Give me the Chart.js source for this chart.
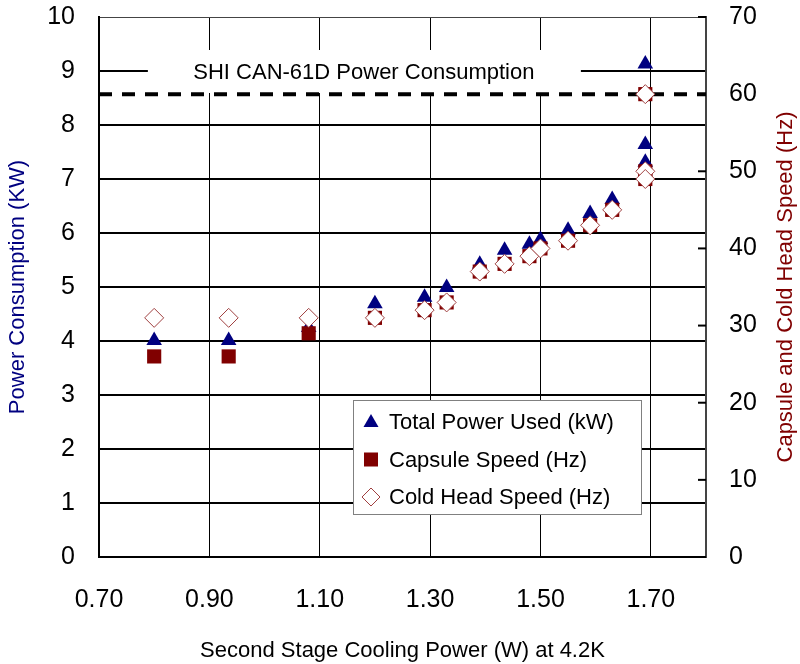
<!DOCTYPE html>
<html>
<head>
<meta charset="utf-8">
<script src="https://cdn.jsdelivr.net/npm/chart.js@4.4.0/dist/chart.umd.min.js"></script>
<style>
  html, body { margin: 0; padding: 0; background: #fff; }
  canvas { display: block; }
</style>
</head>
<body>
<canvas id="chart" width="800" height="664"></canvas>
<script>
// second stage cooling power (W) at 4.2K
const coolingPower = [0.80, 0.935, 1.08, 1.20, 1.29, 1.33, 1.39, 1.435, 1.48, 1.50, 1.55, 1.59, 1.63, 1.69, 1.69, 1.69];
// kW, left axis
const totalPower = [4.01, 4.01, 4.25, 4.69, 4.81, 4.99, 5.42, 5.68, 5.79, 5.88, 6.05, 6.36, 6.62, 9.13, 7.64, 7.31];
// Hz, right axis
const capsuleSpeed = [26, 26, 29, 31, 32, 33, 37, 38, 39, 40, 41, 43, 45, 60, 50, 49];
const coldHeadSpeed = [31, 31, 31, 31, 32, 33, 37, 38, 39, 40, 41, 43, 45, 60, 50, 49];

const xTicks = [0.70, 0.90, 1.10, 1.30, 1.50, 1.70];
const limitHz = 60;
const limitLabel = 'SHI CAN-61D Power Consumption';
const labelAt = { x: 1.18, y: 9 };

const FONT = '"Liberation Sans", Arial, sans-serif';
const NAVY = '#000080';
const MAROON = '#800000';

const pts = (ys) => coolingPower.map((x, i) => ({ x: x, y: ys[i] }));

const bgPlugin = {
  id: 'bg',
  beforeDraw: (chart) => {
    const ctx = chart.ctx;
    ctx.save();
    ctx.fillStyle = '#fff';
    ctx.fillRect(0, 0, chart.width, chart.height);
    ctx.restore();
  }
};

// reference line, its label box and the inner ticks of the right axis
const limitPlugin = {
  id: 'limit',
  beforeDatasetsDraw: (chart) => {
    const ctx = chart.ctx;
    const area = chart.chartArea;
    const xs = chart.scales.x, ys = chart.scales.y, y1 = chart.scales.y1;
    ctx.save();

    const cx = xs.getPixelForValue(labelAt.x);
    const cy = ys.getPixelForValue(labelAt.y);
    ctx.fillStyle = '#fff';
    ctx.fillRect(cx - 216, cy - 21, 433, 43);
    ctx.fillStyle = '#000';
    ctx.font = '22px ' + FONT;
    ctx.textAlign = 'center';
    ctx.textBaseline = 'middle';
    ctx.fillText(limitLabel, cx, cy + 2);

    const ly = y1.getPixelForValue(limitHz);
    ctx.strokeStyle = '#000';
    ctx.lineWidth = 4;
    ctx.setLineDash([13, 10]);
    ctx.beginPath();
    ctx.moveTo(area.left, ly);
    ctx.lineTo(area.right, ly);
    ctx.stroke();
    ctx.setLineDash([]);

    ctx.lineWidth = 2;
    y1.ticks.forEach(t => {
      const py = y1.getPixelForValue(t.value);
      ctx.beginPath();
      ctx.moveTo(area.right - 8, py);
      ctx.lineTo(area.right, py);
      ctx.stroke();
    });
    ctx.restore();
  },
  afterDraw: (chart) => {
    // right axis title reads bottom to top
    const ctx = chart.ctx;
    const area = chart.chartArea;
    ctx.save();
    ctx.translate(786, (area.top + area.bottom) / 2);
    ctx.rotate(-Math.PI / 2);
    ctx.fillStyle = MAROON;
    ctx.font = '22px ' + FONT;
    ctx.textAlign = 'center';
    ctx.textBaseline = 'middle';
    ctx.fillText('Capsule and Cold Head Speed (Hz)', 0, 0);
    ctx.restore();
  }
};

function marker(ctx, style, x, y) {
  ctx.beginPath();
  if (style === 'triangle') {
    ctx.fillStyle = NAVY;
    ctx.moveTo(x, y - 8);
    ctx.lineTo(x + 7.5, y + 5);
    ctx.lineTo(x - 7.5, y + 5);
    ctx.closePath();
    ctx.fill();
  } else if (style === 'rect') {
    ctx.fillStyle = MAROON;
    ctx.fillRect(x - 7, y - 7, 14, 14);
  } else {
    ctx.fillStyle = '#fff';
    ctx.strokeStyle = '#a04040';
    ctx.lineWidth = 1;
    ctx.moveTo(x - 9, y);
    ctx.lineTo(x, y - 9);
    ctx.lineTo(x + 9, y);
    ctx.lineTo(x, y + 9);
    ctx.closePath();
    ctx.fill();
    ctx.stroke();
  }
}

const legendPlugin = {
  id: 'boxLegend',
  afterDatasetsDraw: (chart) => {
    const ctx = chart.ctx;
    const area = chart.chartArea;
    const left = area.left + 254, top = area.top + 383;
    ctx.save();
    ctx.fillStyle = '#fff';
    ctx.fillRect(left, top, 288, 114);
    ctx.strokeStyle = '#808080';
    ctx.lineWidth = 1;
    ctx.strokeRect(left + 0.5, top + 0.5, 288, 114);
    ctx.font = '22px ' + FONT;
    ctx.textBaseline = 'middle';
    chart.data.datasets.forEach((ds, i) => {
      const y = top + 22 + i * 37.5;
      marker(ctx, ds.pointStyle, left + 18, y);
      ctx.fillStyle = '#000';
      ctx.fillText(ds.label, left + 36, y + 1);
    });
    ctx.restore();
  }
};

const noPad = (axis) => {
  axis.paddingTop = 0;
  axis.paddingBottom = 0;
};

new Chart(document.getElementById('chart'), {
  type: 'scatter',
  data: {
    datasets: [
      {
        label: 'Total Power Used (kW)',
        data: pts(totalPower),
        yAxisID: 'y',
        pointStyle: 'triangle',
        pointRadius: 9,
        backgroundColor: NAVY,
        borderColor: NAVY,
        borderWidth: 0,
        order: 3
      },
      {
        label: 'Capsule Speed (Hz)',
        data: pts(capsuleSpeed),
        yAxisID: 'y1',
        pointStyle: 'rect',
        pointRadius: 10,
        backgroundColor: MAROON,
        borderColor: MAROON,
        borderWidth: 0,
        order: 2
      },
      {
        label: 'Cold Head Speed (Hz)',
        data: pts(coldHeadSpeed),
        yAxisID: 'y1',
        pointStyle: 'rectRot',
        pointRadius: 9.5,
        backgroundColor: '#fff',
        borderColor: '#a04040',
        borderWidth: 1,
        order: 1
      }
    ]
  },
  options: {
    responsive: false,
    animation: false,
    events: [],
    layout: { padding: { top: 17, left: 0, right: 0, bottom: 0 } },
    plugins: {
      legend: { display: false },
      tooltip: { enabled: false }
    },
    scales: {
      x: {
        type: 'linear',
        min: 0.7,
        max: 1.8,
        afterBuildTicks: (axis) => { axis.ticks = xTicks.map(v => ({ value: v })); },
        afterFit: (axis) => {
          axis.height = 107;
          axis.paddingLeft = 0;
          axis.paddingRight = 0;
        },
        ticks: {
          padding: 28,
          color: '#000',
          font: { family: FONT, size: 25 },
          maxRotation: 0,
          autoSkip: false,
          callback: (v) => Number(v).toFixed(2)
        },
        grid: { color: '#000', lineWidth: 1, drawTicks: false },
        border: { color: '#000', width: 2 },
        title: {
          display: true,
          text: 'Second Stage Cooling Power (W) at 4.2K',
          color: '#000',
          font: { family: FONT, size: 22 },
          padding: { top: 3, bottom: 0 }
        }
      },
      y: {
        position: 'left',
        min: 0,
        max: 10,
        afterFit: (axis) => { axis.width = 99; noPad(axis); },
        ticks: {
          stepSize: 1,
          padding: 24,
          color: '#000',
          font: { family: FONT, size: 25 }
        },
        grid: {
          color: (c) => c.tick && c.tick.value === 10 ? '#444' : '#000',
          lineWidth: (c) => c.tick && c.tick.value === 10 ? 1 : 2,
          drawTicks: false
        },
        border: { color: '#000', width: 2 },
        title: {
          display: true,
          text: 'Power Consumption (KW)',
          color: NAVY,
          font: { family: FONT, size: 22 },
          padding: { top: 5, bottom: 0 }
        }
      },
      y1: {
        position: 'right',
        min: 0,
        max: 70,
        afterFit: (axis) => { axis.width = 94; noPad(axis); },
        ticks: {
          stepSize: 10,
          padding: 23,
          color: '#000',
          font: { family: FONT, size: 25 }
        },
        grid: { drawOnChartArea: false, drawTicks: false },
        border: { color: '#444', width: 2 }
      }
    }
  },
  plugins: [bgPlugin, limitPlugin, legendPlugin]
});
</script>
</body>
</html>
